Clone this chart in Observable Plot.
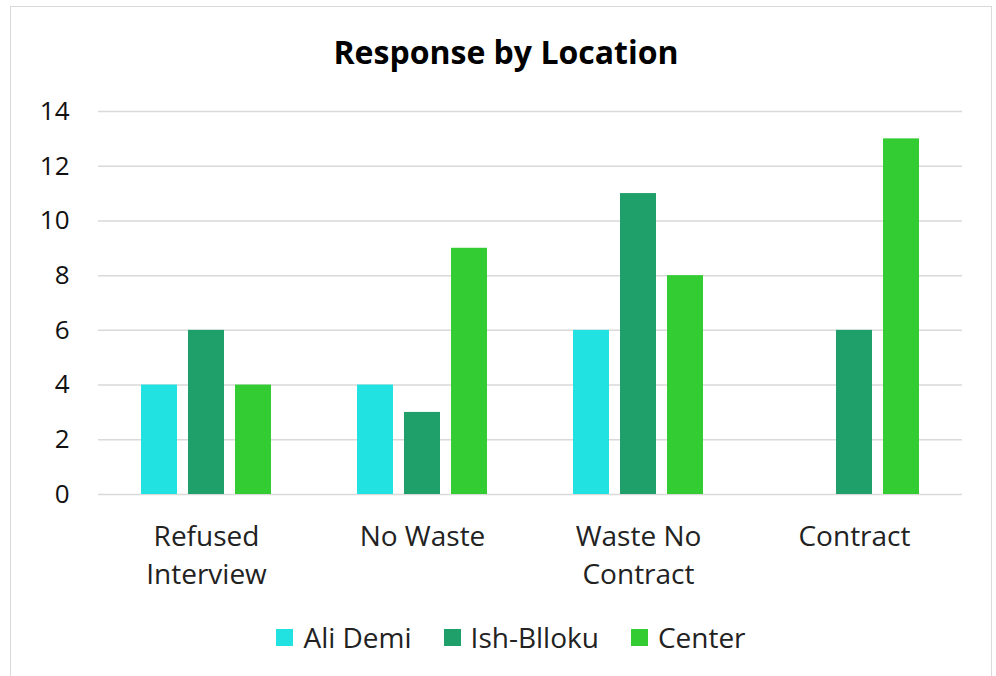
<!DOCTYPE html>
<html>
<head>
<meta charset="utf-8">
<script src="https://cdn.jsdelivr.net/npm/d3@7"></script>
<script src="https://cdn.jsdelivr.net/npm/@observablehq/plot@0.6"></script>
<style>
  html, body { margin: 0; padding: 0; background: #fff; }
  body { width: 996px; height: 676px; overflow: hidden; position: relative; font-family: "Open Sans", sans-serif; }
  #frame { position: absolute; left: 10px; top: 6px; width: 982px; height: 700px; border: 1.5px solid #d9d9d9; box-sizing: border-box; }
  #title { position: absolute; left: 15px; width: 982px; top: 29px; text-align: center; font-weight: bold; font-size: 32px; color: #000; line-height: 46px; }
  #chart { position: absolute; left: 0; top: 90px; }
  #legend { position: absolute; left: 13px; width: 996px; top: 617px; display: flex; justify-content: center; gap: 32px; font-size: 28px; color: #222; line-height: 40px; }
  .item { display: flex; align-items: center; }
  .sw { width: 17px; height: 17px; margin-right: 10px; }
</style>
</head>
<body>
<div id="frame"></div>
<div id="title">Response by Location</div>
<div id="chart"></div>
<div id="legend"></div>
<script>
const categories = ["Refused Interview", "No Waste", "Waste No Contract", "Contract"];
const categoryLabels = ["Refused\nInterview", "No Waste", "Waste No\nContract", "Contract"];
const series = ["Ali Demi", "Ish-Blloku", "Center"];
const aliDemi = [4, 4, 6, 0];
const ishBlloku = [6, 3, 11, 6];
const center = [4, 9, 8, 13];
const colors = ["#22e1e1", "#1fa06a", "#33cc33"];
const yTicks = [0, 2, 4, 6, 8, 10, 12, 14];

const valuesBySeries = [aliDemi, ishBlloku, center];
const data = [];
categories.forEach((c, i) => {
  series.forEach((s, j) => data.push({category: c, series: s, value: valuesBySeries[j][i]}));
});
const labelOf = new Map(categories.map((c, i) => [c, categoryLabels[i]]));

const chart = Plot.plot({
  width: 996,
  height: 510,
  marginLeft: 97,
  marginRight: 33,
  marginTop: 21,
  marginBottom: 106,
  style: {fontFamily: "'Open Sans', sans-serif", background: "transparent"},
  fx: {domain: categories, padding: 0, label: null},
  x: {domain: series, paddingInner: 0.229, paddingOuter: 0.87, axis: null},
  y: {domain: [0, 14], label: null},
  color: {domain: series, range: colors},
  marks: [
    Plot.ruleY(yTicks, {stroke: "#d9d9d9", strokeWidth: 1.5}),
    Plot.barY(data, {fx: "category", x: "series", y: "value", fill: "series"}),
    Plot.axisY({ticks: yTicks, tickSize: 0, tickPadding: 29, fontSize: 26, fill: "#111", label: null}),
    Plot.axisFx({anchor: "bottom", tickSize: 0, tickPadding: 24, fontSize: 28, lineHeight: 1.36, fill: "#222", label: null, tickFormat: d => labelOf.get(d)})
  ]
});
document.getElementById("chart").appendChild(chart);

const legend = document.getElementById("legend");
series.forEach((s, i) => {
  const it = document.createElement("div");
  it.className = "item";
  const sw = document.createElement("span");
  sw.className = "sw";
  sw.style.background = colors[i];
  const t = document.createElement("span");
  t.textContent = s;
  it.appendChild(sw); it.appendChild(t);
  legend.appendChild(it);
});
</script>
</body>
</html>
